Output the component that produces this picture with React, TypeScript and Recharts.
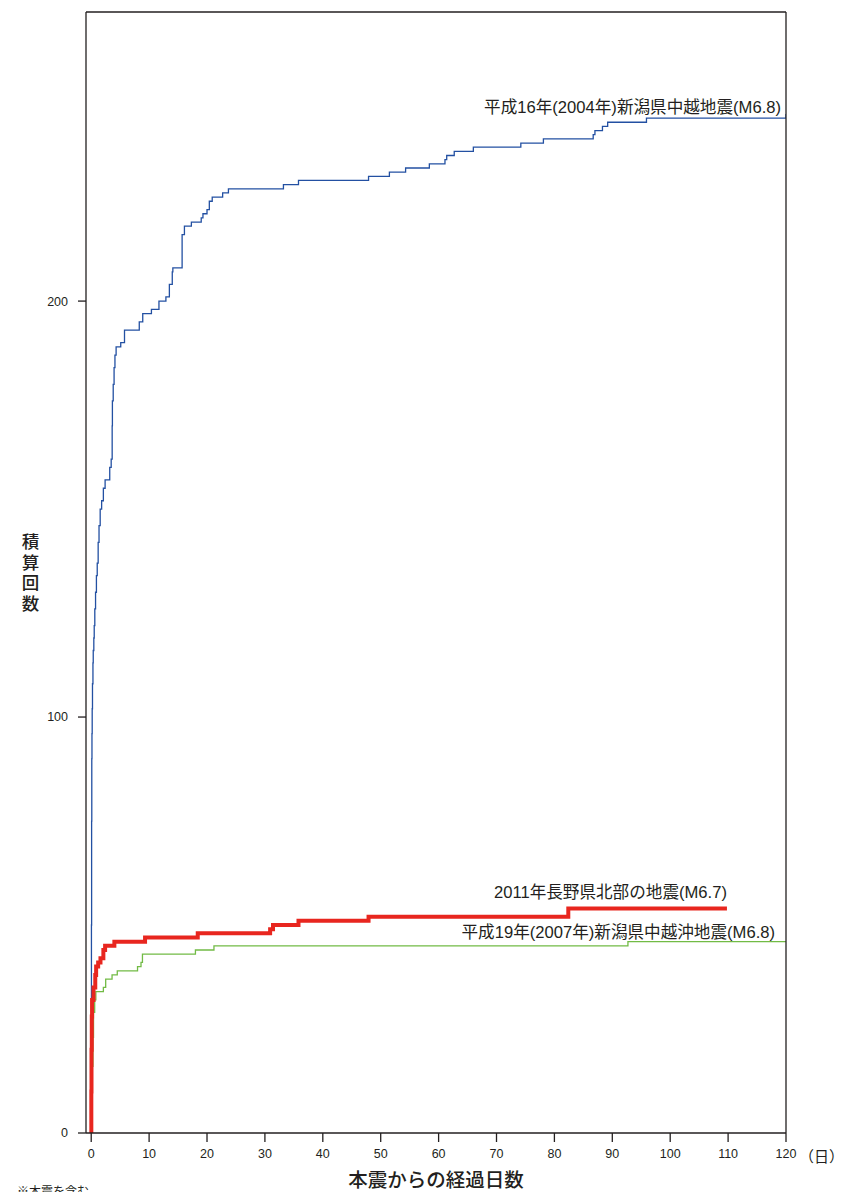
import React from "react";
import { LineChart, Line, XAxis, YAxis, ReferenceDot } from "recharts";

// 本震からの経過日数 (days) と積算回数 — 各地震の累積カウント（階段状）
const chuetsuDays = [
  0, 0.02, 0.04, 0.07, 0.1, 0.13, 0.17, 0.22, 0.3, 0.35, 0.45, 0.52, 0.62, 0.75, 0.9, 1.04, 1.2,
  1.35, 1.55, 1.8, 2.1, 2.4, 3.2, 3.45, 3.62, 3.66, 3.8, 3.95, 4.1, 4.3, 5.1, 5.75, 8.3, 8.9, 10.4,
  11.7, 12.9, 13.5, 14.0, 14.1, 15.7, 16.1, 17.3, 19.0, 19.3, 20.0, 20.4, 20.9, 22.7, 23.7, 33.2,
  35.8, 47.9, 51.5, 54.3, 58.4, 61.1, 61.4, 62.7, 66.0, 74.2, 78.1, 86.7, 87.0, 88.3, 89.2, 95.9, 120,
];
const chuetsuCounts = [
  0, 25, 50, 75, 90, 96, 102, 108, 113, 116, 119, 122, 126, 130, 134, 137, 142, 146, 150, 152, 155,
  157, 160, 162, 170, 176, 180, 184, 187, 189, 190, 193, 195, 197, 198, 200, 201, 204, 207, 208, 216,
  218, 219, 220, 221, 222, 224, 225, 226, 227, 228, 229, 230, 231, 232, 233, 234, 235, 236, 237, 238,
  239, 240, 241, 242, 243, 244, 245,
];

const naganoDays = [
  0, 0.02, 0.05, 0.1, 0.15, 0.4, 0.7, 0.85, 1.2, 1.6, 2.1, 2.4, 4.0, 9.3, 18.4, 30.9, 31.4, 35.8,
  47.9, 82.4, 109.8,
];
const naganoCounts = [
  0, 10, 20, 28, 32, 35, 38, 40, 41, 42, 44, 45, 46, 47, 48, 49, 50, 51, 52, 54, 54,
];

const chuetsuokiDays = [
  0, 0.05, 0.15, 0.3, 0.4, 0.6, 0.8, 2.1, 2.5, 3.6, 4.5, 8.0, 8.6, 8.85, 18.0, 21.2, 92.7, 120,
];
const chuetsuokiCounts = [
  0, 8, 16, 23, 29, 32, 34, 35, 37, 38, 39, 40, 41, 43, 44, 45, 46, 46,
];

const xTicks = [0, 10, 20, 30, 40, 50, 60, 70, 80, 90, 100, 110, 120];
const yTicks = [0, 100, 200];

const chuetsuLabel = "平成16年(2004年)新潟県中越地震(M6.8)";
const naganoLabel = "2011年長野県北部の地震(M6.7)";
const chuetsuokiLabel = "平成19年(2007年)新潟県中越沖地震(M6.8)";

const toSeries = (days: number[], counts: number[]) =>
  days.map((day, i) => ({ day, count: counts[i] }));

const chuetsu = toSeries(chuetsuDays, chuetsuCounts);
const nagano = toSeries(naganoDays, naganoCounts);
const chuetsuoki = toSeries(chuetsuokiDays, chuetsuokiCounts);

const INK = "#231f20";
const FONT = '"Liberation Sans", Arial, "Noto Sans CJK JP", sans-serif';
const CJK = '"Noto Sans CJK JP", "Liberation Sans", sans-serif';

const axisLine = { stroke: INK, strokeWidth: 1.3 };
const tickStyle = { fontSize: 12.5, fill: INK, fontFamily: FONT };

// series name drawn up and to the left of the series' last point
function endLabel(text: string, dx: number, dy: number) {
  return (props: any) => {
    const { x, y } = props.viewBox;
    return (
      <text
        x={x + dx}
        y={y + dy}
        textAnchor="end"
        fill={INK}
        fontSize={16.6}
        fontFamily={FONT}
      >
        {text}
      </text>
    );
  };
}

function last<T>(arr: T[]) {
  return arr[arr.length - 1];
}

export default function App() {
  return (
    <div
      style={{
        position: "absolute",
        left: 0,
        top: 0,
        width: 856,
        height: 1192,
        overflow: "hidden",
        background: "#fff",
      }}
    >
      <LineChart
        width={856}
        height={1200}
        margin={{ top: 2, right: 50, bottom: 37, left: 46 }}
      >
        <XAxis
          xAxisId="bottom"
          type="number"
          dataKey="day"
          domain={[-0.9, 120]}
          ticks={xTicks}
          interval={0}
          allowDataOverflow
          height={30}
          tickSize={9}
          tickMargin={7}
          axisLine={axisLine}
          tickLine={axisLine}
          tick={tickStyle}
        />
        <XAxis
          xAxisId="top"
          orientation="top"
          type="number"
          dataKey="day"
          domain={[-0.9, 120]}
          ticks={xTicks}
          interval={0}
          allowDataOverflow
          height={10}
          tickSize={9}
          axisLine={axisLine}
          tickLine={axisLine}
          tick={false}
        />
        <YAxis
          yAxisId="left"
          type="number"
          domain={[0, 269.5]}
          ticks={yTicks}
          interval={0}
          allowDataOverflow
          width={40}
          tickSize={8}
          tickMargin={10}
          axisLine={axisLine}
          tickLine={axisLine}
          tick={tickStyle}
        />
        <YAxis
          yAxisId="right"
          orientation="right"
          type="number"
          domain={[0, 269.5]}
          ticks={yTicks}
          interval={0}
          allowDataOverflow
          width={20}
          tickSize={8}
          axisLine={axisLine}
          tickLine={axisLine}
          tick={false}
        />

        <Line
          xAxisId="bottom"
          yAxisId="left"
          data={chuetsuoki}
          dataKey="count"
          type="stepAfter"
          stroke="#72bb45"
          strokeWidth={1.3}
          dot={false}
          activeDot={false}
          isAnimationActive={false}
        />
        <Line
          xAxisId="bottom"
          yAxisId="left"
          data={chuetsu}
          dataKey="count"
          type="stepAfter"
          stroke="#2350a2"
          strokeWidth={1.3}
          dot={false}
          activeDot={false}
          isAnimationActive={false}
        />
        <Line
          xAxisId="bottom"
          yAxisId="left"
          data={nagano}
          dataKey="count"
          type="stepAfter"
          stroke="#e8261f"
          strokeWidth={4}
          dot={false}
          activeDot={false}
          isAnimationActive={false}
        />

        <ReferenceDot
          xAxisId="bottom"
          yAxisId="left"
          x={last(chuetsuDays)}
          y={last(chuetsuCounts) - 1}
          r={0}
          fill="none"
          stroke="none"
          label={endLabel(chuetsuLabel, -5, -5)}
        />
        <ReferenceDot
          xAxisId="bottom"
          yAxisId="left"
          x={last(naganoDays)}
          y={last(naganoCounts)}
          r={0}
          fill="none"
          stroke="none"
          label={endLabel(naganoLabel, 0, -10)}
        />
        <ReferenceDot
          xAxisId="bottom"
          yAxisId="left"
          x={last(chuetsuokiDays)}
          y={last(chuetsuokiCounts)}
          r={0}
          fill="none"
          stroke="none"
          label={endLabel(chuetsuokiLabel, -11, -4)}
        />
      </LineChart>

      {/* 縦書きの軸タイトル */}
      <div
        style={{
          position: "absolute",
          left: 19,
          top: 533,
          width: 22,
          fontFamily: CJK,
          fontSize: 17.5,
          fontWeight: 500,
          lineHeight: "22px",
          letterSpacing: "3px",
          writingMode: "vertical-rl",
          textOrientation: "upright",
          color: INK,
        }}
      >
        積算回数
      </div>
      <div
        style={{
          position: "absolute",
          left: 336,
          width: 200,
          top: 1166,
          textAlign: "center",
          fontFamily: CJK,
          fontSize: 19.5,
          fontWeight: 500,
          lineHeight: "26px",
          color: INK,
        }}
      >
        本震からの経過日数
      </div>
      <div
        style={{
          position: "absolute",
          left: 799,
          top: 1146,
          fontFamily: CJK,
          fontSize: 15,
          lineHeight: "20px",
          color: INK,
        }}
      >
        （日）
      </div>
      <div
        style={{
          position: "absolute",
          left: 17,
          top: 1184,
          fontFamily: CJK,
          fontSize: 12,
          lineHeight: "14px",
          color: INK,
        }}
      >
        ※本震を含む
      </div>
    </div>
  );
}
